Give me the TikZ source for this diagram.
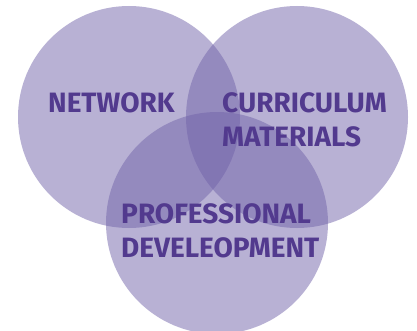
\documentclass[tikz,border=0pt]{standalone}
\usepackage{fontspec}
\setmainfont{Fira Sans}
\definecolor{vennpurple}{RGB}{113,99,169}
\definecolor{labelpurple}{RGB}{82,58,142}

\begin{document}
\begin{tikzpicture}[x=1pt,y=-1pt,
    venn/.style={fill=vennpurple,fill opacity=0.5},
    label/.style={text=labelpurple,font=\fontsize{28}{34}\selectfont\bfseries,align=left,inner sep=0pt,anchor=base west}]
    \useasboundingbox (0,0) rectangle (417,331);
    \fill[venn](129,117)circle(111);
    \fill[venn](297,117)circle(111);
    \fill[venn](217,223)circle(111);
    \node[label] (network) at (48,113) {NETWORK};
    \node[label] (curriculum) at (222,147) {CURRICULUM\\MATERIALS};
    \node[label] (profdev) at (121,257) {PROFESSIONAL\\DEVELEOPMENT};
\end{tikzpicture}
\end{document}
